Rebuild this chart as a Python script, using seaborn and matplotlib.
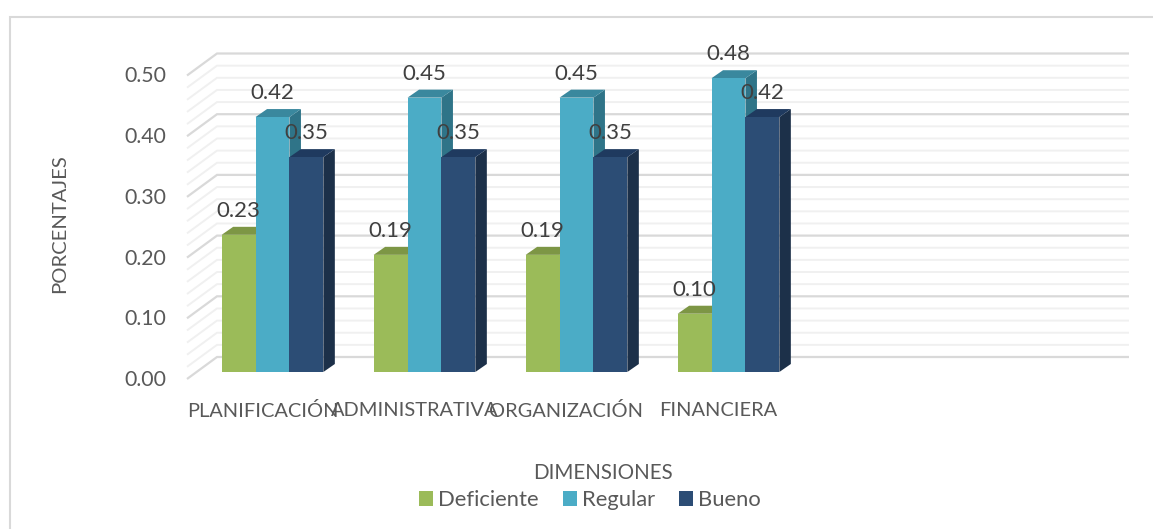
#Clustered bars with a drawn 3D look, like the Excel original
import pandas as pd
import matplotlib.pyplot as plt
import seaborn as sns
from matplotlib.lines import Line2D
from matplotlib.patches import Polygon, Rectangle
from matplotlib.transforms import ScaledTranslation

dimensiones = ['PLANIFICACIÓN', 'ADMINISTRATIVA', 'ORGANIZACIÓN', 'FINANCIERA']
niveles = ['Deficiente', 'Regular', 'Bueno']
deficiente = [0.226, 0.193, 0.193, 0.096]
regular = [0.42, 0.452, 0.452, 0.484]
bueno = [0.354, 0.354, 0.354, 0.42]
colores = ['#9BBB59', '#4BACC6', '#2C4D75']
lados = ['#6F8A3C', '#2F7488', '#1C3049']
techos = ['#7D9645', '#3A889E', '#1F3A5F']
yticks = [0.0, 0.1, 0.2, 0.3, 0.4, 0.5]
rejilla = [i / 50 for i in range(26)]

W, H = 1153, 529
sns.set_theme(style='white')
plt.rcParams['font.family'] = ['Lato', 'DejaVu Sans']

fig = plt.figure(figsize=(W / 100, H / 100), dpi=100)
#axes box in pixels: 6 category slots, bar plane
px_left, px_right, px_bottom, px_top = 196.5, 1108.5, 372, 68.5
ax = fig.add_axes([px_left / W, 1 - px_bottom / H, (px_right - px_left) / W, (px_bottom - px_top) / H])
ax.patch.set_visible(False)

df = pd.DataFrame({'dimension': dimensiones * 3,
                   'nivel': sum([[n] * 4 for n in niveles], []),
                   'valor': deficiente + regular + bueno})
sns.barplot(data=df, x='dimension', y='valor', hue='nivel', order=dimensiones, hue_order=niveles,
            palette=colores, width=0.669, gap=0, saturation=1, legend=False, ax=ax, zorder=5, linewidth=0)
ax.set_xlim(-0.5, 5.5)
ax.set_ylim(0, 0.5)
sns.despine(ax=ax, left=True, bottom=True, right=True, top=True)

#pixel offsets -> data units
ux, uy = (px_right - px_left) / 6, (px_bottom - px_top) / 0.5
back_x, back_y = 20.5 / ux, 15 / uy
front_x, front_y = -9.5 / ux, -7 / uy
depth_x, depth_y = 11.5 / ux, 8 / uy

#back wall lines and left floor/wall diagonals
for v in rejilla:
    mayor = round(v * 50) % 5 == 0
    col = '#D9D9D9' if mayor else '#F0F0F0'
    ax.plot([-0.5 + front_x, -0.5 + back_x, 5.5 + back_x], [v + front_y, v + back_y, v + back_y],
            color=col, lw=1.6 if mayor else 1.4, zorder=1, clip_on=False, solid_joinstyle='miter',
            solid_capstyle='butt')

#side and top faces built from the bars themselves
for i, cont in enumerate(ax.containers):
    z = 5 + i * 2
    for bar in cont:
        x0, w, h = bar.get_x(), bar.get_width(), bar.get_height()
        x1 = x0 + w
        ax.add_patch(Polygon([(x1, 0), (x1 + depth_x, depth_y), (x1 + depth_x, h + depth_y), (x1, h)],
                             fc=lados[i], ec='none', zorder=z, clip_on=False))
        ax.add_patch(Polygon([(x0, h), (x0 + depth_x, h + depth_y), (x1 + depth_x, h + depth_y), (x1, h)],
                             fc=techos[i], ec='none', zorder=z, clip_on=False))
        bar.set_zorder(z + 1)
    ax.bar_label(cont, fmt='%.2f', padding=10, fontsize=16, color='#404040', zorder=20, clip_on=False)

#ticks sit on the front edge of the floor
ax.set_yticks(yticks)
ax.set_yticklabels(['%.2f' % t for t in yticks])
ax.set_xticks(range(len(dimensiones)))
ax.set_xticklabels(dimensiones)
ax.tick_params(axis='y', length=0, pad=22, labelsize=15.3, labelcolor='#595959')
ax.tick_params(axis='x', length=0, pad=21.5, labelsize=14.4, labelcolor='#595959')
off_y = ScaledTranslation(0, -6 / 100, fig.dpi_scale_trans)
off_x = ScaledTranslation(-10 / 100, 0, fig.dpi_scale_trans)
for lab in ax.get_yticklabels():
    lab.set_transform(lab.get_transform() + off_y)
for lab in ax.get_xticklabels():
    lab.set_transform(lab.get_transform() + off_x)
ax.set_xlabel('')
ax.set_ylabel('')

fig.text(60 / W, 1 - 224 / H, 'PORCENTAJES', rotation=90, ha='center', va='center', fontsize=14.6, color='#595959')
fig.text(603 / W, 1 - 473 / H, 'DIMENSIONES', ha='center', va='center', fontsize=14.8, color='#595959')

handles = [Rectangle((0, 0), 1, 1, fc=c, ec='none') for c in colores]
fig.legend(handles, niveles, loc='center', bbox_to_anchor=(590 / W, 1 - 500 / H), ncol=3, frameon=False,
           fontsize=15.8, labelcolor='#595959', handlelength=0.64, handleheight=0.64, handletextpad=0.23,
           columnspacing=1.09, borderpad=0)

#chart frame, only top and left are inside the picture
fig.add_artist(Line2D([10.5 / W, 10.5 / W, 1], [0, 1 - 16.5 / H, 1 - 16.5 / H], transform=fig.transFigure,
                      color='#D9D9D9', lw=1.5, solid_joinstyle='miter'))

fig.savefig('out.png', dpi=100)
